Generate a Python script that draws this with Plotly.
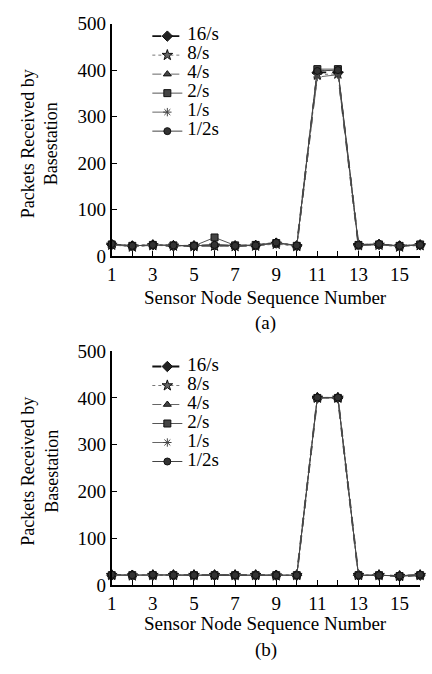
import plotly.graph_objects as go

nodes = list(range(1, 17))
series_names = ["16/s", "8/s", "4/s", "2/s", "1/s", "1/2s"]

# (a) packets received per node
a_16 = [25, 22, 24, 22, 22, 23, 22, 23, 28, 22, 395, 395, 24, 25, 22, 24]
a_8 = [24, 20, 23, 22, 21, 22, 21, 22, 26, 21, 390, 392, 23, 24, 20, 23]
a_4 = [26, 23, 25, 23, 23, 24, 23, 24, 30, 23, 400, 398, 25, 26, 22, 25]
a_2 = [25, 22, 24, 23, 22, 40, 23, 24, 28, 22, 402, 402, 24, 25, 22, 25]
a_1 = [24, 21, 23, 22, 22, 22, 22, 23, 27, 22, 385, 390, 23, 25, 21, 24]
a_half = [26, 22, 24, 23, 22, 24, 22, 23, 29, 23, 398, 400, 24, 26, 22, 24]

# (b) packets received per node
b_16 = [22, 22, 22, 22, 22, 22, 22, 22, 22, 22, 400, 400, 22, 22, 20, 22]
b_8 = [22, 21, 22, 22, 22, 22, 22, 22, 21, 22, 400, 400, 22, 22, 20, 22]
b_4 = [23, 22, 22, 22, 22, 22, 22, 22, 22, 22, 401, 401, 22, 22, 21, 23]
b_2 = [22, 22, 22, 22, 22, 22, 22, 22, 22, 22, 400, 400, 22, 22, 20, 22]
b_1 = [22, 21, 22, 22, 22, 22, 22, 22, 21, 22, 399, 400, 22, 22, 20, 22]
b_half = [23, 22, 23, 22, 22, 22, 22, 22, 22, 22, 401, 401, 22, 22, 21, 23]

x_ticks = [1, 3, 5, 7, 9, 11, 13, 15]
y_ticks = [0, 100, 200, 300, 400, 500]

styles = [
    dict(dash="dash", width=1.8, color="#111111", symbol="diamond", msize=8, mcolor="#222222"),
    dict(dash="dot", width=1.0, color="#777777", symbol="star", msize=8, mcolor="#666666"),
    dict(dash="dashdot", width=1.0, color="#666666", symbol="triangle-up", msize=7, mcolor="#444444"),
    dict(dash="solid", width=1.0, color="#555555", symbol="square", msize=7, mcolor="#444444"),
    dict(dash="longdash", width=1.0, color="#666666", symbol="asterisk-open", msize=7, mcolor="#444444"),
    dict(dash="solid", width=1.0, color="#444444", symbol="circle", msize=7, mcolor="#333333"),
]

FONT = "Liberation Serif, Times New Roman, serif"
fig = go.Figure()

data_a = [a_16, a_8, a_4, a_2, a_1, a_half]
data_b = [b_16, b_8, b_4, b_2, b_1, b_half]

def label(n):
    return '<span style="font-size:19px">' + n + '</span>'

for name, ys, st in zip(series_names, data_a, styles):
    fig.add_trace(go.Scatter(
        x=nodes, y=ys, name=label(name), mode="lines+markers", xaxis="x", yaxis="y",
        line=dict(dash=st["dash"], width=st["width"], color=st["color"]),
        marker=dict(symbol=st["symbol"], size=st["msize"], color=st["mcolor"],
                    line=dict(color="#111111", width=1)),
        cliponaxis=False, legend="legend"))

for name, ys, st in zip(series_names, data_b, styles):
    fig.add_trace(go.Scatter(
        x=nodes, y=ys, name=label(name), mode="lines+markers", xaxis="x2", yaxis="y2",
        line=dict(dash=st["dash"], width=st["width"], color=st["color"]),
        marker=dict(symbol=st["symbol"], size=st["msize"], color=st["mcolor"],
                    line=dict(color="#111111", width=1)),
        cliponaxis=False, legend="legend2"))

W, H = 432, 674
def px_x(p):
    return p / W
def px_y(p):
    return 1 - p / H

tickfont = dict(family=FONT, size=19, color="black")
xax = dict(range=[1, 16], tickvals=x_ticks, ticks="inside", ticklen=5, tickcolor="black",
           showline=True, linecolor="black", linewidth=2, showgrid=False, zeroline=False,
           minor=dict(tickvals=[2, 4, 6, 8, 10, 12, 14, 16], ticks="inside", ticklen=5, tickcolor="black"),
           tickfont=tickfont)
yax = dict(range=[0, 500], tickvals=y_ticks, ticks="inside", ticklen=5, tickcolor="black",
           showline=True, linecolor="black", linewidth=2, showgrid=False, zeroline=False,
           tickfont=tickfont)

legend_common = dict(font=dict(family=FONT, size=11, color="black"), bgcolor="rgba(0,0,0,0)",
                     tracegroupgap=0, itemwidth=30, xanchor="left", yanchor="top")

fig.update_layout(
    width=W, height=H, margin=dict(l=0, r=0, t=0, b=0),
    paper_bgcolor="white", plot_bgcolor="white",
    xaxis=dict(domain=[px_x(108), px_x(420)], anchor="y", **xax),
    yaxis=dict(domain=[px_y(254), px_y(14)], anchor="x", **yax),
    xaxis2=dict(domain=[px_x(108), px_x(420)], anchor="y2", **xax),
    yaxis2=dict(domain=[px_y(594), px_y(352)], anchor="x2", **yax),
    legend=dict(x=px_x(144), y=px_y(12), **legend_common),
    legend2=dict(x=px_x(144), y=px_y(353), **legend_common),
    showlegend=True,
)

ann_font = dict(family=FONT, size=19, color="black")
ytitle = "Packets Received by<br>Basestation"
for y_center, xl in [(px_y(138), px_y(297)), (px_y(476), px_y(633))]:
    fig.add_annotation(text=ytitle, x=px_x(35), y=y_center, xref="paper", yref="paper",
                       xanchor="center", yanchor="middle",
                       textangle=-90, showarrow=False, font=dict(family=FONT, size=18, color="black"))
    fig.add_annotation(text="Sensor Node Sequence Number", x=px_x(264), y=xl, xref="paper", yref="paper",
                       xanchor="center", yanchor="middle", showarrow=False, font=ann_font)

fig.add_annotation(text="(a)", x=px_x(264), y=px_y(323), xref="paper", yref="paper",
                   xanchor="center", yanchor="middle", showarrow=False, font=ann_font)
fig.add_annotation(text="(b)", x=px_x(264), y=px_y(661), xref="paper", yref="paper",
                   xanchor="center", yanchor="middle", showarrow=False, font=ann_font)

fig.write_html("out.html")
